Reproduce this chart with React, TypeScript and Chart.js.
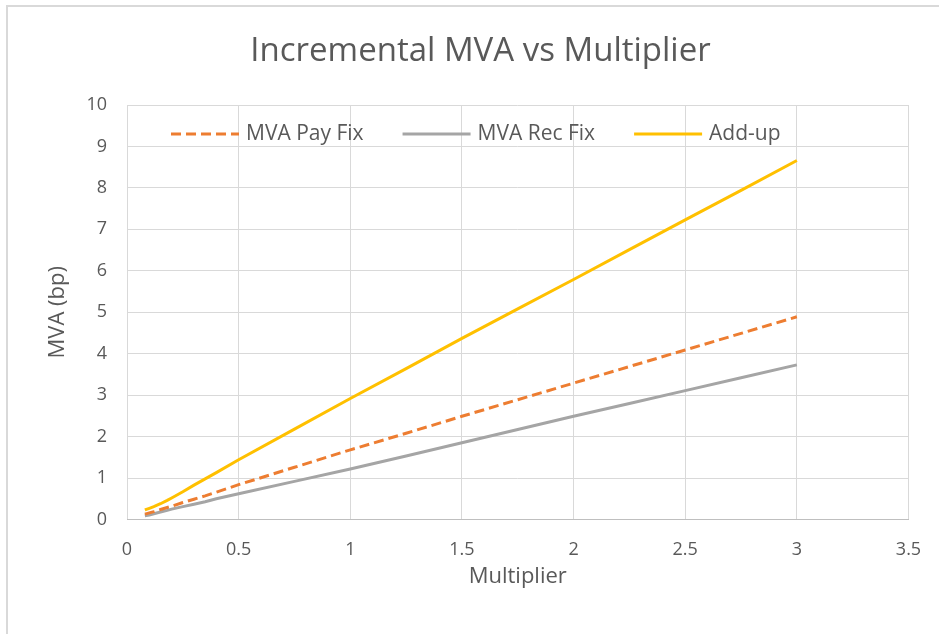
import React, { useEffect, useRef } from "react";
import { Chart, registerables } from "chart.js";

Chart.register(...registerables);

const TITLE = "Incremental MVA vs Multiplier";
const X_TITLE = "Multiplier";
const Y_TITLE = "MVA (bp)";

const X_TICKS = [0, 0.5, 1, 1.5, 2, 2.5, 3, 3.5];
const X_TICK_LABELS = ["0", "0.5", "1", "1.5", "2", "2.5", "3", "3.5"];
const Y_TICKS = [0, 1, 2, 3, 4, 5, 6, 7, 8, 9, 10];
const Y_TICK_LABELS = ["0", "1", "2", "3", "4", "5", "6", "7", "8", "9", "10"];

const MULTIPLIER = [0.08, 0.1, 0.12, 0.15, 0.18, 0.2, 0.25, 0.3, 0.35, 0.4, 0.5, 0.75, 1, 1.25, 1.5, 1.75, 2, 2.25, 2.5, 2.75, 3];
const MVA_PAY_FIX = [0.13, 0.16, 0.19, 0.24, 0.29, 0.32, 0.41, 0.49, 0.57, 0.66, 0.84, 1.26, 1.68, 2.08, 2.49, 2.89, 3.29, 3.69, 4.09, 4.49, 4.89];
const MVA_REC_FIX = [0.09, 0.11, 0.14, 0.18, 0.22, 0.25, 0.31, 0.37, 0.43, 0.5, 0.62, 0.92, 1.22, 1.53, 1.85, 2.17, 2.49, 2.8, 3.11, 3.42, 3.73];
const ADD_UP = [0.23, 0.27, 0.31, 0.38, 0.46, 0.52, 0.67, 0.83, 0.98, 1.13, 1.44, 2.18, 2.92, 3.64, 4.37, 5.08, 5.79, 6.51, 7.23, 7.94, 8.66];

const SERIES_LABELS = ["MVA Pay Fix", "MVA Rec Fix", "Add-up"];
const SERIES_COLORS = ["#ED7D31", "#A5A5A5", "#FFC000"];

const FONT = '"Open Sans", "Liberation Sans", sans-serif';
const TEXT_COLOR = "#595959";
const GRID_COLOR = "#D9D9D9";

const CANVAS_W = 945;
const CANVAS_H = 640;

const toPoints = (ys: number[]) => MULTIPLIER.map((x, i) => ({ x, y: ys[i] }));

const insideLegend = {
  id: "insideLegend",
  afterDatasetsDraw(chart: any) {
    const { ctx, chartArea } = chart;
    ctx.save();
    ctx.font = `21px ${FONT}`;
    ctx.textBaseline = "middle";
    ctx.textAlign = "left";
    let x = chartArea.left + 44;
    const y = chartArea.top + 29;
    chart.data.datasets.forEach((ds: any) => {
      ctx.beginPath();
      ctx.setLineDash(ds.borderDash || []);
      ctx.strokeStyle = ds.borderColor;
      ctx.lineWidth = ds.borderWidth;
      ctx.lineCap = "butt";
      ctx.moveTo(x, y);
      ctx.lineTo(x + 68, y);
      ctx.stroke();
      ctx.setLineDash([]);
      ctx.fillStyle = TEXT_COLOR;
      ctx.fillText(ds.label, x + 75, y);
      x += 75 + ctx.measureText(ds.label).width + 39;
    });
    ctx.restore();
  },
};

export default function App() {
  const ref = useRef<HTMLCanvasElement | null>(null);

  useEffect(() => {
    if (!ref.current) return;
    const chart = new Chart(ref.current, {
      type: "line",
      data: {
        datasets: [
          {
            label: SERIES_LABELS[0],
            data: toPoints(MVA_PAY_FIX),
            borderColor: SERIES_COLORS[0],
            backgroundColor: SERIES_COLORS[0],
            borderWidth: 3,
            borderDash: [10, 5],
            pointRadius: 0,
            tension: 0,
          },
          {
            label: SERIES_LABELS[1],
            data: toPoints(MVA_REC_FIX),
            borderColor: SERIES_COLORS[1],
            backgroundColor: SERIES_COLORS[1],
            borderWidth: 3,
            pointRadius: 0,
            tension: 0,
          },
          {
            label: SERIES_LABELS[2],
            data: toPoints(ADD_UP),
            borderColor: SERIES_COLORS[2],
            backgroundColor: SERIES_COLORS[2],
            borderWidth: 3,
            pointRadius: 0,
            tension: 0,
          },
        ],
      },
      options: {
        responsive: false,
        animation: false,
        devicePixelRatio: 1,
        layout: { padding: { left: 44.5, right: 44.5, top: 0, bottom: 0 } },
        plugins: {
          legend: { display: false },
          tooltip: { enabled: false },
          title: {
            display: true,
            text: TITLE,
            color: TEXT_COLOR,
            font: { family: FONT, size: 33, weight: "normal" },
            padding: { top: 25, bottom: 33.4 },
          },
        },
        scales: {
          x: {
            type: "linear",
            min: 0,
            max: 3.5,
            afterBuildTicks: (scale: any) => {
              scale.ticks = X_TICKS.map((v) => ({ value: v }));
            },
            afterFit: (scale: any) => {
              scale.height = CANVAS_H - 512.5;
            },
            grid: { color: GRID_COLOR, lineWidth: 1, drawTicks: false },
            border: { display: true, color: "#BFBFBF", width: 1 },
            ticks: {
              color: TEXT_COLOR,
              font: { family: FONT, size: 18 },
              padding: 20,
              maxRotation: 0,
              autoSkip: false,
              callback: (_v: any, i: number) => X_TICK_LABELS[i],
            },
            title: {
              display: true,
              text: X_TITLE,
              color: TEXT_COLOR,
              font: { family: FONT, size: 22 },
              padding: { top: 0, bottom: 56.8 },
            },
          },
          y: {
            type: "linear",
            min: 0,
            max: 10,
            afterBuildTicks: (scale: any) => {
              scale.ticks = Y_TICKS.map((v) => ({ value: v }));
            },
            afterFit: (scale: any) => {
              scale.width = 74.5;
            },
            grid: { color: GRID_COLOR, lineWidth: 1, drawTicks: false },
            border: { display: false },
            ticks: {
              color: TEXT_COLOR,
              font: { family: FONT, size: 18 },
              padding: 20,
              autoSkip: false,
              callback: (_v: any, i: number) => Y_TICK_LABELS[i],
            },
            title: {
              display: true,
              text: Y_TITLE,
              color: TEXT_COLOR,
              font: { family: FONT, size: 22 },
              padding: { top: -7.7, bottom: 0 },
            },
          },
        },
      },
      plugins: [insideLegend],
    } as any);
    return () => chart.destroy();
  }, []);

  return (
    <div
      style={{
        position: "absolute",
        left: 0,
        top: 0,
        width: 939,
        height: 634,
        overflow: "hidden",
        background: "#FFFFFF",
      }}
    >
      <div
        style={{
          position: "absolute",
          left: 6,
          top: 5,
          borderLeft: "2px solid #D9D9D9",
          borderTop: "2px solid #D9D9D9",
          background: "#FFFFFF",
        }}
      >
        <canvas ref={ref} width={CANVAS_W} height={CANVAS_H} style={{ display: "block" }} />
      </div>
    </div>
  );
}
